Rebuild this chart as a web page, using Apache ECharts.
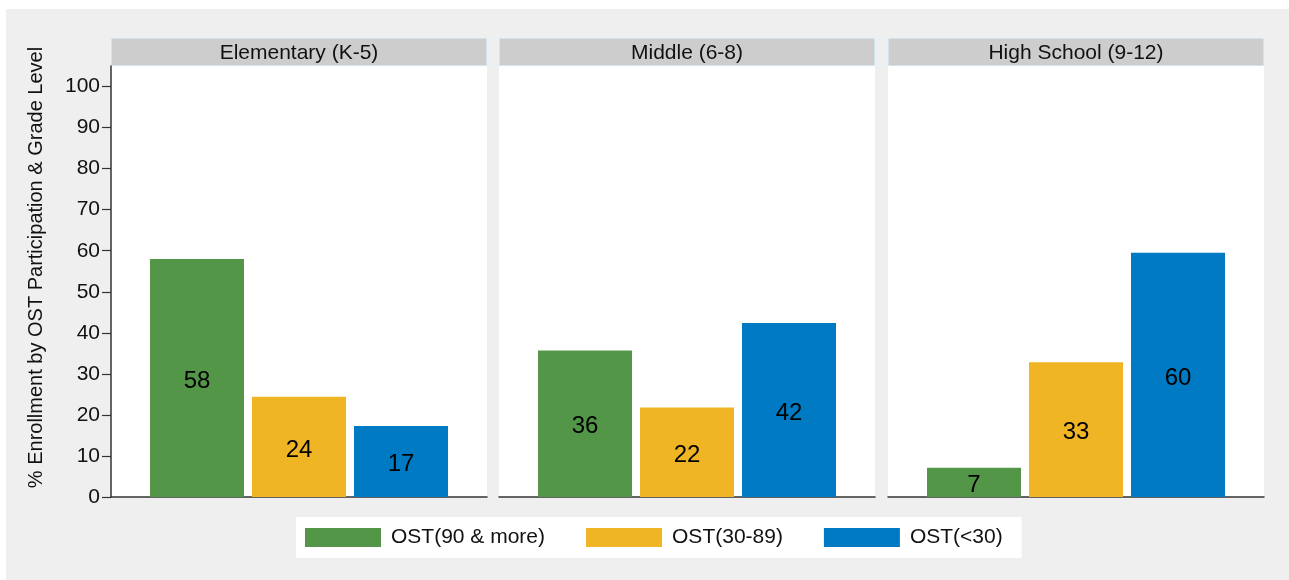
<!DOCTYPE html>
<html>
<head>
<meta charset="utf-8">
<script src="https://cdn.jsdelivr.net/npm/echarts@6/dist/echarts.min.js"></script>
<style>
  html, body { margin: 0; padding: 0; background: #ffffff; }
  #bg { position: absolute; left: 6px; top: 9px; right: 0; bottom: 0; background: #EFEFEF; }
  #chart { position: absolute; left: 0; top: 0; width: 1289px; height: 580px; }
</style>
</head>
<body>
<div id="bg"></div>
<div id="chart"></div>
<script>
// ---- data ----
const categories = ['Elementary (K-5)', 'Middle (6-8)', 'High School (9-12)'];
const seriesNames = ['OST(90 & more)', 'OST(30-89)', 'OST(<30)'];
const ost90 = [58.0, 35.7, 7.1];
const ost30to89 = [24.4, 21.8, 32.8];
const ostUnder30 = [17.3, 42.4, 59.5];
const yTicks = [0, 10, 20, 30, 40, 50, 60, 70, 80, 90, 100];
const yTitle = '% Enrollment by OST Participation & Grade Level';

// ---- style / layout ----
const colors = ['#549647', '#F0B524', '#007AC2'];
const font = 'Liberation Sans, Arial, Helvetica, sans-serif';
const panelLefts = [111, 499, 888];
const panelWidth = 376;
const plotTop = 66, plotHeight = 431;
const headerTop = 38, headerHeight = 28;

const values = [ost90, ost30to89, ostUnder30];

const grids = [], xAxes = [], yAxes = [], series = [], graphics = [];
categories.forEach((cat, i) => {
  grids.push({ left: panelLefts[i], top: plotTop, width: panelWidth, height: plotHeight,
    show: true, backgroundColor: '#ffffff', borderWidth: 0 });
  xAxes.push({ type: 'category', gridIndex: i, data: [cat], position: 'bottom',
    axisLine: { show: true, lineStyle: { color: '#333333', width: 1.5 } },
    axisTick: { show: false }, axisLabel: { show: false } });
  xAxes.push({ type: 'category', gridIndex: i, data: [cat], position: 'top', z: 10,
    axisLine: { show: false }, axisTick: { show: false },
    axisLabel: { show: true, fontSize: 21, fontFamily: font, color: '#111111', margin: 2 } });
  yAxes.push({ type: 'value', gridIndex: i, min: 0, max: 105, interval: 10,
    show: i === 0,
    splitLine: { show: false },
    axisLine: { show: true, lineStyle: { color: '#333333', width: 1.5 } },
    axisTick: { show: true, length: 9, lineStyle: { color: '#333333', width: 1.2 }, customValues: yTicks },
    axisLabel: { fontSize: 21, fontFamily: font, color: '#111111', margin: 11, customValues: yTicks },
    name: i === 0 ? yTitle : '',
    nameLocation: 'middle', nameRotate: 90, nameGap: 65,
    nameTextStyle: { fontSize: 20, fontFamily: font, color: '#111111', padding: [0, 0, 0, 28] } });
  graphics.push({ type: 'rect', silent: true, z: -10,
    shape: { x: panelLefts[i] + 0.5, y: headerTop + 0.5, width: panelWidth - 1, height: headerHeight - 1 },
    style: { fill: '#CDCDCD', stroke: '#D3E5EC', lineWidth: 1 } });
  seriesNames.forEach((name, g) => {
    series.push({ type: 'bar', name: name, xAxisIndex: 2 * i, yAxisIndex: i,
      data: [values[g][i]], barWidth: 94, barGap: '8.5%',
      itemStyle: { color: colors[g] },
      label: { show: true, position: 'inside', offset: [0, 3], fontSize: 24, fontFamily: font, color: '#000000',
        formatter: p => Math.round(p.value) } });
  });
});

const chart = echarts.init(document.getElementById('chart'), null, { renderer: 'canvas' });
chart.setOption({
  animation: false,
  color: colors,
  grid: grids,
  xAxis: xAxes,
  yAxis: yAxes,
  graphic: { elements: graphics },
  legend: { data: seriesNames, left: 296, top: 517, orient: 'horizontal',
    icon: 'rect', itemWidth: 76, itemHeight: 19, itemGap: 41,
    padding: [10, 19, 10, 9], backgroundColor: '#ffffff',
    textStyle: { fontSize: 21, fontFamily: font, color: '#111111', padding: [0, 0, 0, 5], lineHeight: 19 } },
  series: series
});
</script>
</body>
</html>
